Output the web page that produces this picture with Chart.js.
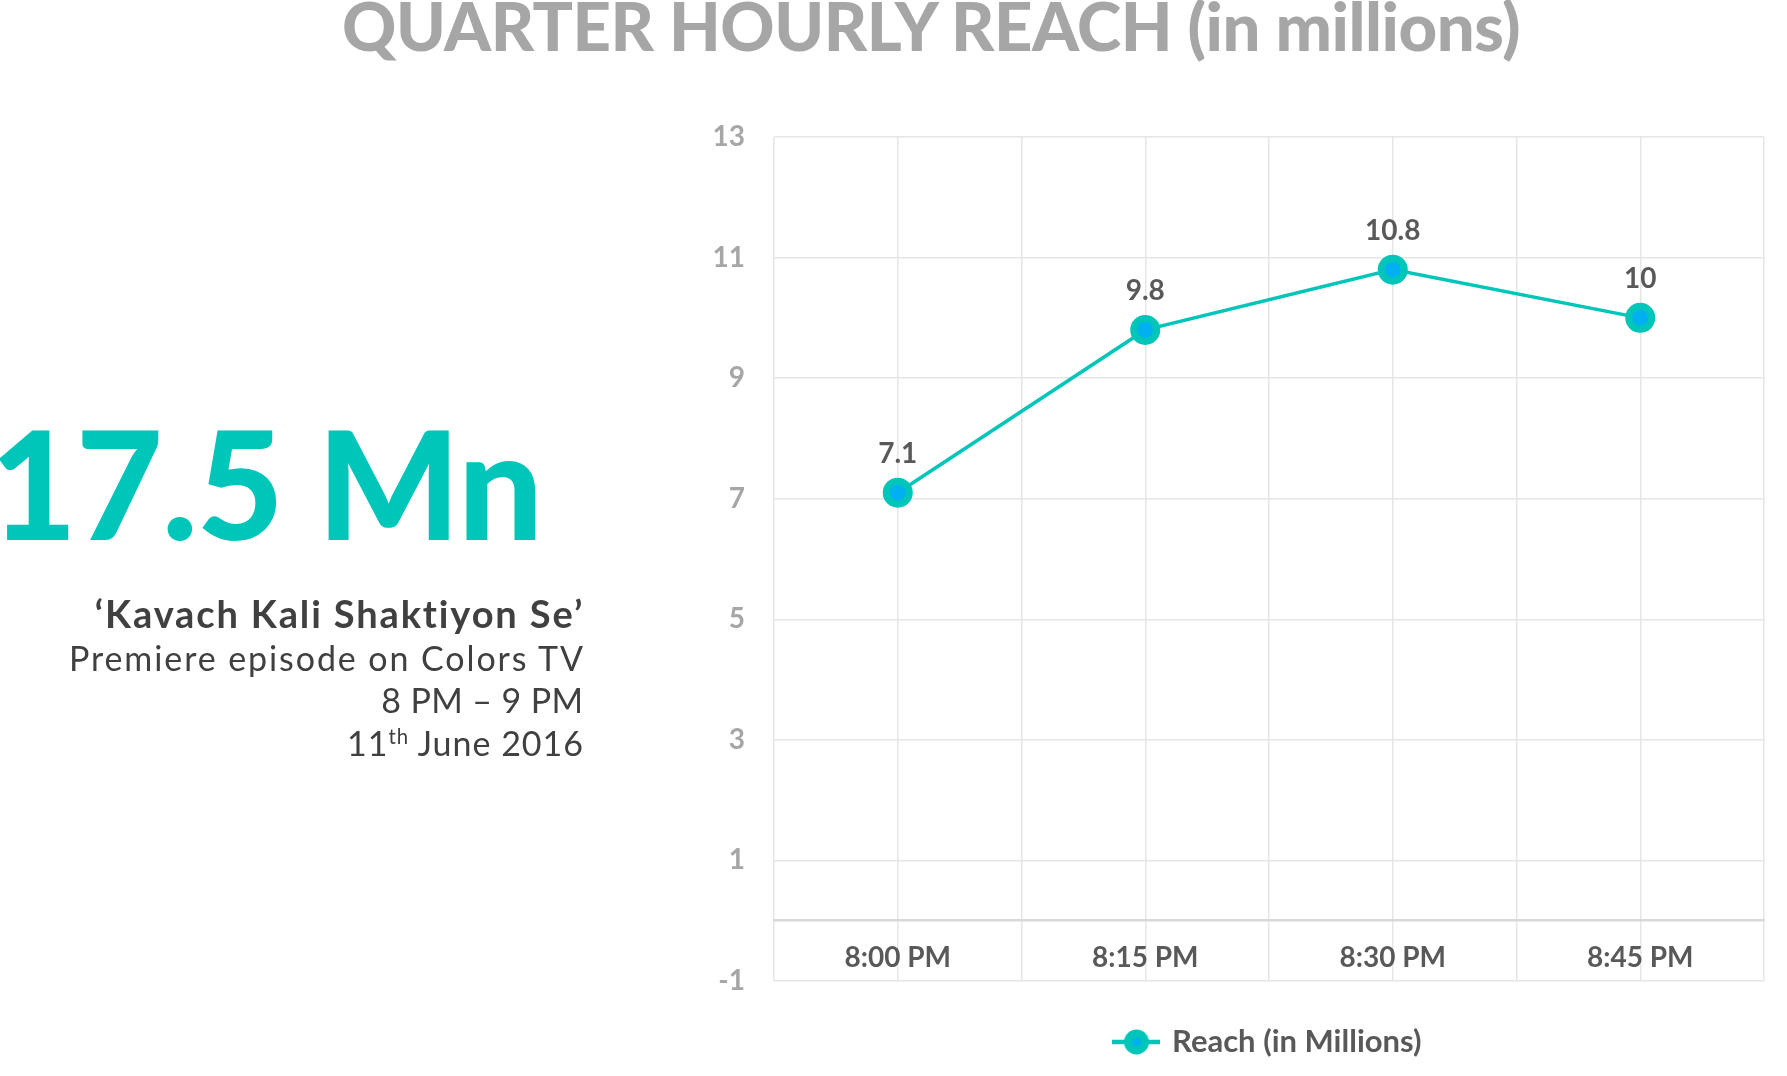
<!DOCTYPE html>
<html>
<head>
<meta charset="utf-8">
<title>Quarter Hourly Reach</title>
<script src="https://cdn.jsdelivr.net/npm/chart.js@4.4.1/dist/chart.umd.min.js"></script>
<style>
  html, body { margin: 0; padding: 0; background: #ffffff; }
  body { position: relative; width: 1787px; height: 1076px; overflow: hidden; font-family: 'Lato', sans-serif; }
  #reachChart { position: absolute; left: 0; top: 0; }
  .txt { position: absolute; top: 0; left: 0; white-space: nowrap; line-height: 1; }
  #title { font-size: 67px; font-weight: 900; color: #A6A6A6; }
  #bigNumber { font-size: 150px; font-weight: 900; color: #00C5B9; }
  #showName { font-size: 38px; font-weight: 700; color: #404040; }
  .info { font-size: 34px; font-weight: 400; color: #404040; }
  .info sup { font-size: 0.6em; vertical-align: baseline; position: relative; top: -0.6em; }
</style>
</head>
<body>
<canvas id="reachChart" width="1787" height="1076"></canvas>

<div class="txt" id="title">QUARTER HOURLY REACH (in millions)</div>
<div class="txt" id="bigNumber">17.5 Mn</div>
<div class="txt" id="showName">‘Kavach Kali Shaktiyon Se’</div>
<div class="txt info" id="line1">Premiere episode on Colors TV</div>
<div class="txt info" id="line2">8 PM – 9 PM</div>
<div class="txt info" id="line3">11<sup>th</sup> June 2016</div>

<script>
// chart data
const timeLabels = ['8:00 PM', '8:15 PM', '8:30 PM', '8:45 PM'];
const reachValues = [7.1, 9.8, 10.8, 10];
const seriesName = 'Reach (in Millions)';
const yMin = -1;
const yMax = 13;
const yStep = 2;

const teal = '#00C5B9';
const blue = '#00B0F0';
const gridColor = '#E6E6E6';

// place the html texts by baseline and stretch them to the widths in the picture
function placeText(id, spec) {
    const el = document.getElementById(id);
    const mark = document.createElement('span');
    mark.style.cssText = 'display:inline-block;width:0;height:0;vertical-align:baseline;';
    el.appendChild(mark);
    const natural = el.getBoundingClientRect().width;
    const chars = el.textContent.length;
    const ls = (spec.width - natural) / chars;
    el.style.letterSpacing = ls + 'px';
    const left = spec.right !== undefined ? spec.right - spec.width + ls : spec.left;
    el.style.left = left + 'px';
    el.style.top = (spec.baseline - mark.offsetTop) + 'px';
}

placeText('title', { left: 342, width: 1178, baseline: 51 });
placeText('bigNumber', { left: -10, width: 552, baseline: 540 });
placeText('showName', { right: 583, width: 490, baseline: 628 });
placeText('line1', { right: 583, width: 516, baseline: 671 });
placeText('line2', { right: 583, width: 202, baseline: 713 });
placeText('line3', { right: 583, width: 237, baseline: 756 });

// legend marker: short line with a ringed dot
function makeLegendMarker() {
    const c = document.createElement('canvas');
    c.width = 48;
    c.height = 28;
    const g = c.getContext('2d');
    g.strokeStyle = teal;
    g.lineWidth = 4.5;
    g.beginPath();
    g.moveTo(0, 14);
    g.lineTo(48, 14);
    g.stroke();
    g.beginPath();
    g.arc(24, 14, 8.5, 0, Math.PI * 2);
    g.fillStyle = blue;
    g.fill();
    g.lineWidth = 8;
    g.stroke();
    return c;
}

// value labels above each point
const valueLabels = {
    id: 'valueLabels',
    afterDatasetsDraw(chart) {
        const ctx = chart.ctx;
        const meta = chart.getDatasetMeta(0);
        ctx.save();
        ctx.font = 'bold 28px Lato';
        ctx.fillStyle = '#595959';
        ctx.textAlign = 'center';
        ctx.textBaseline = 'middle';
        meta.data.forEach((pt, i) => {
            ctx.fillText(String(reachValues[i]), pt.x, pt.y - 39);
        });
        ctx.restore();
    }
};

const tickFont = { family: 'Lato', size: 28, weight: 'bold' };

new Chart(document.getElementById('reachChart'), {
    type: 'line',
    data: {
        datasets: [{
            label: seriesName,
            data: reachValues.map((v, i) => ({ x: i, y: v })),
            borderColor: teal,
            borderWidth: 3.5,
            pointRadius: 11.5,
            pointHoverRadius: 11.5,
            pointBorderWidth: 7,
            pointBackgroundColor: blue,
            pointBorderColor: teal,
            tension: 0,
            clip: false
        }]
    },
    options: {
        responsive: false,
        animation: false,
        layout: {
            padding: { left: 690, right: 23, top: 137, bottom: 8.5 }
        },
        plugins: {
            tooltip: { enabled: false },
            legend: {
                position: 'bottom',
                fullSize: false,
                labels: {
                    usePointStyle: true,
                    pointStyle: makeLegendMarker(),
                    pointStyleWidth: 40,
                    padding: 45.5,
                    color: '#595959',
                    font: { family: 'Lato', size: 31, weight: 'bold' }
                }
            }
        },
        scales: {
            x: {
                type: 'linear',
                position: { y: 0 },
                min: -0.5,
                max: timeLabels.length - 0.5,
                ticks: {
                    stepSize: 0.5,
                    autoSkip: false,
                    maxRotation: 0,
                    padding: 20,
                    color: '#595959',
                    font: tickFont,
                    callback: (value) => Number.isInteger(value) ? timeLabels[value] : ''
                },
                grid: { color: gridColor, lineWidth: 1.5, drawTicks: false },
                border: { color: '#D9D9D9', width: 2.5 }
            },
            y: {
                min: yMin,
                max: yMax,
                ticks: {
                    stepSize: yStep,
                    padding: 29,
                    color: '#A6A6A6',
                    font: tickFont
                },
                grid: { color: gridColor, lineWidth: 1.5, drawTicks: false },
                border: { display: false },
                afterFit(scale) {
                    scale.width = 84;
                }
            }
        }
    },
    plugins: [valueLabels]
});
</script>
</body>
</html>
